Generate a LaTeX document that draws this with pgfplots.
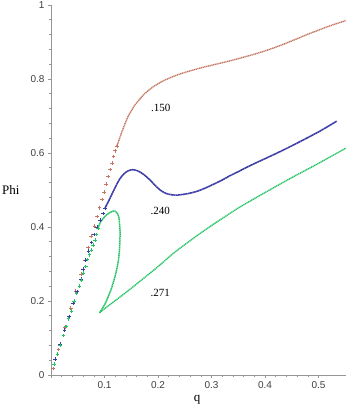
\documentclass[border=0pt]{standalone}
\usepackage{fontspec}
\setmainfont{Liberation Serif}
\setsansfont{Liberation Sans}
\usepackage{pgfplots}
\pgfplotsset{compat=1.18}
\definecolor{cbrown}{RGB}{196,118,98}
\definecolor{cblue}{RGB}{60,60,165}
\definecolor{cgreen}{RGB}{35,195,100}
\definecolor{axgray}{RGB}{150,150,150}
\begin{document}
\begin{tikzpicture}
\path[use as bounding box] (0,0) rectangle (346pt,415pt);
\begin{axis}[
  at={(51pt,40pt)}, anchor=south west,
  scale only axis, width=295pt, height=370pt,
  xmin=0, xmax=0.5514, ymin=0, ymax=1,
  axis lines=left,
  axis line style={-, draw=axgray, line width=0.8pt},
  xtick={0,0.1,0.2,0.3,0.4,0.5}, xticklabels={,0.1,0.2,0.3,0.4,0.5},
  ytick={0,0.2,0.4,0.6,0.8,1}, yticklabels={0,0.2,0.4,0.6,0.8,1},
  minor tick num=4,
  tick align=outside,
  major tick length=3pt, minor tick length=2pt,
  tick style={axgray, line width=0.6pt},
  tick label style={font=\sffamily\fontsize{10}{12}\selectfont, text=black!75},
  /pgf/number format/assume math mode=true,
  clip=false,
]
% brown .150
\addplot[only marks, mark=+, mark size=1.8pt, cbrown, mark options={line width=0.6pt}] coordinates {
(0.004,0.018) (0.014,0.069) (0.026,0.129) (0.037,0.181) (0.046,0.227) (0.056,0.273)
(0.064,0.311) (0.069,0.345) (0.075,0.375) (0.081,0.403) (0.086,0.428) (0.091,0.452)
(0.095,0.474) (0.099,0.495) (0.103,0.516) (0.107,0.536) (0.110,0.555) (0.114,0.573)
(0.117,0.590) (0.120,0.606) (0.123,0.619)};
\addplot[cbrown, smooth, line width=1.4pt, dash pattern=on 1.2pt off 0.6pt] coordinates {
(0.123,0.619) (0.126,0.630) (0.130,0.647) (0.134,0.663) (0.138,0.678) (0.142,0.692)
(0.146,0.704) (0.151,0.716) (0.156,0.728) (0.162,0.739) (0.168,0.749) (0.175,0.760)
(0.183,0.770) (0.192,0.780) (0.200,0.787) (0.210,0.795) (0.222,0.803) (0.240,0.813)
(0.260,0.822) (0.280,0.830) (0.300,0.837) (0.320,0.844) (0.340,0.851) (0.360,0.859)
(0.380,0.867) (0.400,0.876) (0.420,0.886) (0.440,0.897) (0.460,0.909) (0.480,0.921)
(0.500,0.932) (0.520,0.943) (0.5514,0.958)};
% blue .240
\addplot[only marks, mark=+, mark size=1.8pt, cblue, mark options={line width=0.6pt}] coordinates {
(0.008,0.043) (0.017,0.084) (0.025,0.122) (0.034,0.158) (0.041,0.193) (0.049,0.226)
(0.056,0.259) (0.060,0.286) (0.065,0.310) (0.070,0.335) (0.076,0.358) (0.080,0.380)
(0.086,0.400) (0.092,0.419) (0.097,0.437) (0.101,0.451)};
\addplot[cblue, smooth, line width=1.6pt, dash pattern=on 2pt off 0.4pt] coordinates {
(0.101,0.451) (0.110,0.477) (0.120,0.507) (0.129,0.531) (0.138,0.546) (0.146,0.553)
(0.153,0.555) (0.160,0.553) (0.166,0.549) (0.175,0.540) (0.185,0.527) (0.195,0.512)
(0.204,0.500) (0.213,0.492) (0.222,0.488) (0.232,0.486) (0.241,0.487) (0.255,0.490)
(0.272,0.496) (0.288,0.505) (0.303,0.515) (0.320,0.527) (0.335,0.539) (0.352,0.551)
(0.368,0.563) (0.396,0.582) (0.430,0.605) (0.459,0.626) (0.500,0.657) (0.534,0.686)};
% green .271
\addplot[only marks, mark=+, mark size=1.8pt, cgreen, mark options={line width=0.6pt}] coordinates {
(0.0056,0.029) (0.012,0.056) (0.017,0.080) (0.023,0.107) (0.028,0.131) (0.033,0.152)
(0.038,0.173) (0.043,0.200) (0.048,0.220) (0.053,0.241) (0.057,0.257) (0.061,0.275)
(0.065,0.293) (0.068,0.312) (0.072,0.325) (0.076,0.338) (0.079,0.351) (0.082,0.365)
(0.085,0.380) (0.088,0.397)};
\addplot[cgreen, smooth, line width=1.5pt, dash pattern=on 1.4pt off 0.5pt] coordinates {
(0.088,0.397) (0.092,0.412) (0.098,0.424) (0.104,0.433) (0.110,0.439) (0.116,0.443)
(0.120,0.443) (0.124,0.437) (0.127,0.425) (0.128,0.410) (0.129,0.390) (0.129,0.374)
(0.128,0.338) (0.126,0.310) (0.124,0.293) (0.120,0.268) (0.116,0.248) (0.112,0.230)
(0.107,0.212) (0.102,0.195) (0.098,0.185) (0.094,0.175) (0.0907,0.168)};
\addplot[cgreen, smooth, line width=1.4pt, dash pattern=on 1.2pt off 0.6pt] coordinates {
(0.0907,0.168) (0.100,0.179) (0.120,0.201) (0.140,0.223) (0.166,0.253) (0.200,0.293)
(0.229,0.329) (0.260,0.363) (0.291,0.395) (0.322,0.425) (0.353,0.454) (0.400,0.493)
(0.447,0.531) (0.500,0.572) (0.551,0.613)};
\node[font=\fontsize{13}{15}\selectfont] at (axis cs:-0.075,0.5) {Phi};
\node[font=\fontsize{13}{15}\selectfont] at (axis cs:0.273,-0.068) {q};
\node[font=\fontsize{11}{13}\selectfont] at (axis cs:0.205,0.721) {.150};
\node[font=\fontsize{11}{13}\selectfont] at (axis cs:0.204,0.443) {.240};
\node[font=\fontsize{11}{13}\selectfont] at (axis cs:0.204,0.222) {.271};
\end{axis}
\end{tikzpicture}
\end{document}
